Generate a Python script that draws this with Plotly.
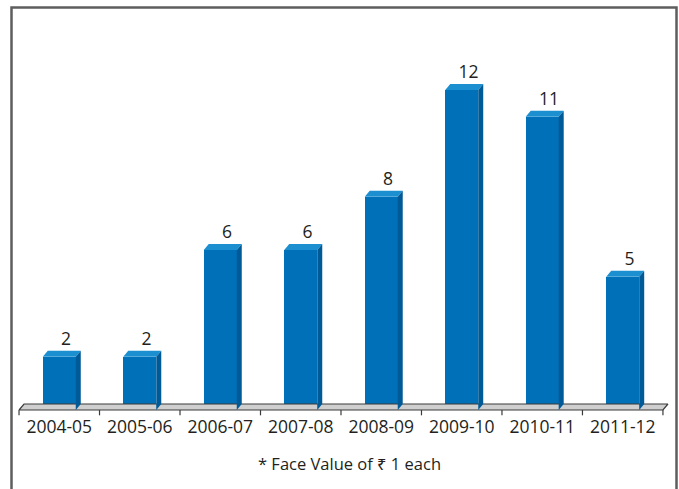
import plotly.graph_objects as go

# Dividend per share by financial year
years = ["2004-05", "2005-06", "2006-07", "2007-08", "2008-09", "2009-10", "2010-11", "2011-12"]
dividend = [2, 2, 6, 6, 8, 12, 11, 5]
footnote = "* Face Value of \u20b9 1 each"

# Canvas and plot-area geometry (pixels)
W, H = 679, 489
ML, MR, MT, MB = 15, 8, 68, 71
X_RANGE = [-0.55, 7.6]
Y_RANGE = [-0.3, 12.825]
PW, PH = W - ML - MR, H - MT - MB
px_x = PW / (X_RANGE[1] - X_RANGE[0])
px_y = PH / (Y_RANGE[1] - Y_RANGE[0])

# 3-D extrusion in data units (about 5 px right, 6 px up)
DX = 5 / px_x
DY = 6 / px_y
BAR_W = 33 / px_x

FRONT = "#0070b9"
TOP = "#1b8fd0"
SIDE = "#005a97"
FONT = "Open Sans, Noto Sans, sans-serif"

xs = list(range(len(years)))
fig = go.Figure()

# floor slab under the bars
lo, hi = -0.5, len(years) - 0.5
fig.add_trace(go.Scatter(
    x=[lo, lo + DX, hi + DX, hi, lo], y=[0, DY, DY, 0, 0],
    fill="toself", fillcolor="#cfcfcf", mode="lines",
    line=dict(color="#3a3a3a", width=1.2), hoverinfo="skip", showlegend=False))

# tick marks at category boundaries
tx, ty = [], []
for i in range(len(years) + 1):
    b = i - 0.5
    tx += [b, b, None]
    ty += [0, -0.2, None]
fig.add_trace(go.Scatter(x=tx, y=ty, mode="lines", line=dict(color="#3a3a3a", width=1.2),
                         hoverinfo="skip", showlegend=False))

# front faces
fig.add_trace(go.Bar(x=xs, y=dividend, width=BAR_W, marker=dict(color=FRONT, line=dict(width=0)),
                     showlegend=False, hoverinfo="x+y"))

# top and side faces of each bar
for x, v in zip(xs, dividend):
    l, r = x - BAR_W / 2, x + BAR_W / 2
    fig.add_trace(go.Scatter(
        x=[l, l + DX, r + DX, r, l], y=[v, v + DY, v + DY, v, v],
        fill="toself", fillcolor=TOP, mode="lines", line=dict(width=0, color=TOP),
        hoverinfo="skip", showlegend=False))
    fig.add_trace(go.Scatter(
        x=[r, r + DX, r + DX, r, r], y=[0, DY, v + DY, v, 0],
        fill="toself", fillcolor=SIDE, mode="lines", line=dict(width=0, color=SIDE),
        hoverinfo="skip", showlegend=False))

# value labels
fig.add_trace(go.Scatter(
    x=[x + 0.085 for x in xs], y=[v + DY + 0.05 for v in dividend],
    mode="text", text=[str(v) for v in dividend], textposition="top center",
    textfont=dict(family=FONT, size=17.5, color="#231f20"),
    cliponaxis=False, hoverinfo="skip", showlegend=False))


def px_to_paper_x(px):
    return (px - ML) / PW


def px_to_paper_y(py):
    return (H - MB - py) / PH


# frame around the chart
fig.add_shape(type="rect", xref="paper", yref="paper",
              x0=px_to_paper_x(11.5), x1=px_to_paper_x(676.5),
              y0=px_to_paper_y(496), y1=px_to_paper_y(7.5),
              line=dict(color="#5e5e5e", width=2.5), layer="above")

fig.add_annotation(text=footnote, xref="paper", yref="paper",
                   x=px_to_paper_x(349.5), y=px_to_paper_y(463),
                   xanchor="center", yanchor="middle", showarrow=False,
                   font=dict(family=FONT, size=16.5, color="#231f20"))

fig.update_layout(
    width=W, height=H,
    margin=dict(l=ML, r=MR, t=MT, b=MB),
    paper_bgcolor="white", plot_bgcolor="white",
    xaxis=dict(range=X_RANGE, tickvals=xs, ticktext=years, ticks="",
               ticklabelstandoff=-4,
               showgrid=False, zeroline=False, showline=False,
               tickfont=dict(family=FONT, size=17.5, color="#231f20")),
    yaxis=dict(range=Y_RANGE, visible=False, showgrid=False, zeroline=False),
    bargap=0,
)

fig.write_html("out.html")
